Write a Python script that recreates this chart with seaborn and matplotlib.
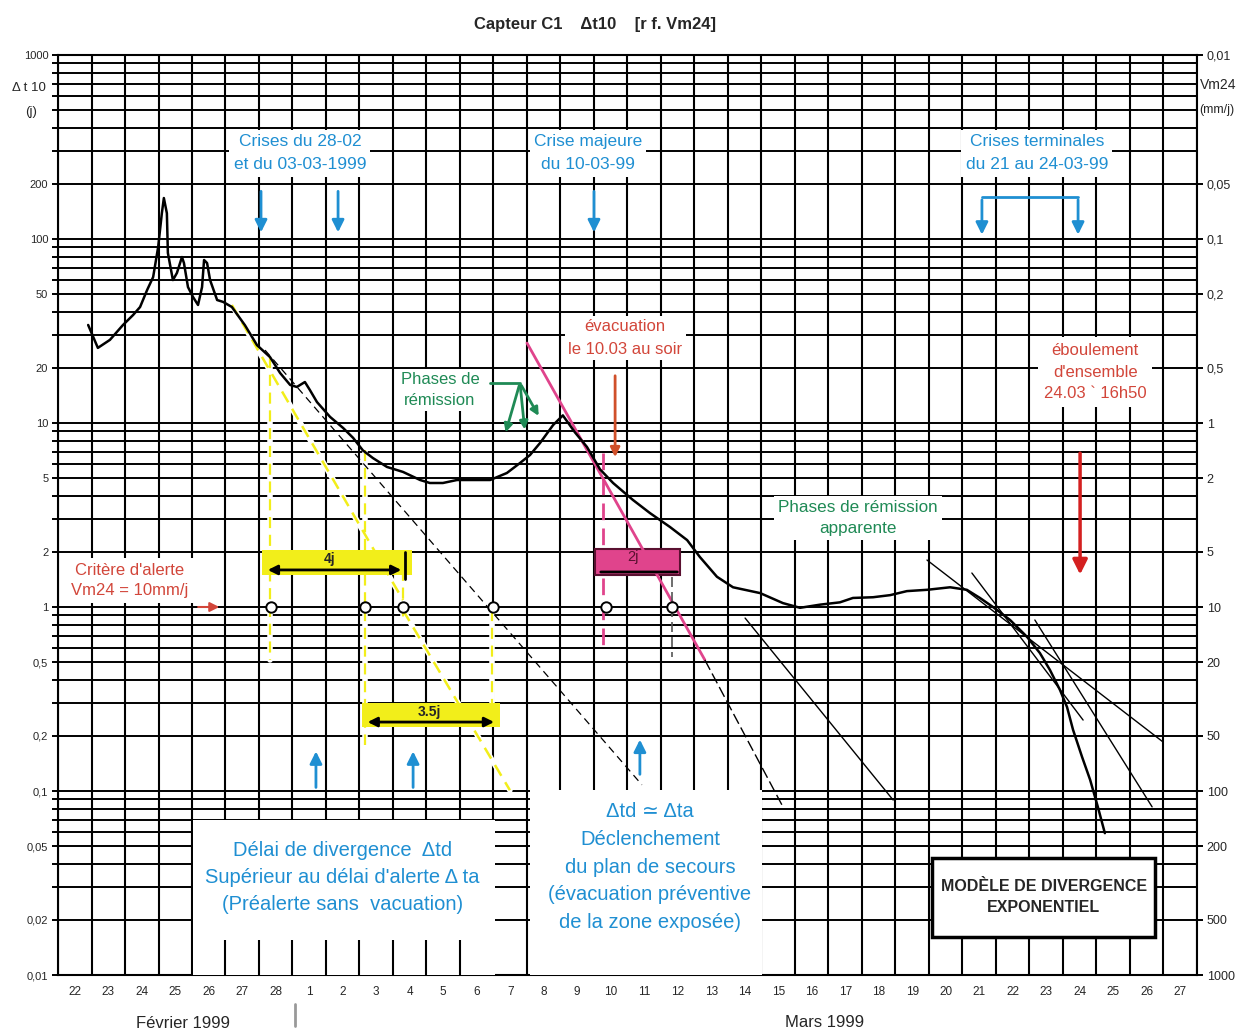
import matplotlib
matplotlib.use("Agg")
import matplotlib.pyplot as plt
from matplotlib.patches import Rectangle
from matplotlib.ticker import FixedLocator, LogLocator, NullLocator, FuncFormatter, NullFormatter
import seaborn as sns

# temps en jours depuis le 22-02-1999 00h00, Δt10 en jours
days = [0.90, 1.19, 1.55, 1.94, 2.24, 2.45, 2.66, 2.84, 2.99, 3.10, 3.16, 3.25, 3.28,
        3.43, 3.55, 3.70, 3.76, 3.88, 4.03, 4.18, 4.30, 4.36, 4.45, 4.54, 4.75, 4.93,
        5.19, 5.58, 5.94, 6.33, 6.63, 6.93, 7.13, 7.37, 7.52, 7.73, 8.12, 8.51, 8.81,
        9.10, 9.40, 9.82, 10.30, 10.81, 11.10, 11.49, 11.91, 12.39, 12.90, 13.40, 13.79,
        14.09, 14.39, 14.78, 15.07, 15.43, 15.79, 16.18, 16.57, 17.16, 17.67, 18.27,
        18.78, 19.16, 19.67, 20.15, 20.96, 21.64, 22.15, 22.75, 23.34, 23.73, 24.33,
        24.84, 25.34, 25.94, 26.63, 27.13, 27.52, 27.91, 28.42, 28.93, 29.31, 29.61,
        29.91, 30.12, 30.30, 30.57, 30.81, 31.04, 31.25]
dt10 = [34.1, 25.6, 28.3, 34.1, 38.6, 42.7, 52.8, 62.1, 90.5, 138, 167, 138, 84,
        59.8, 65.4, 79.8, 74, 54.8, 48.4, 43.8, 54.8, 76.9, 74, 59.8, 46.6, 45.5,
        42.7, 34.0, 26.5, 22.8, 18.7, 16.1, 15.7, 16.7, 15.1, 13.0, 10.8, 9.4, 8.3,
        7.1, 6.45, 5.77, 5.42, 4.90, 4.72, 4.72, 4.90, 4.90, 4.90, 5.35, 6.06,
        6.70, 7.79, 9.75, 11.0, 8.9, 7.41, 5.6, 4.72, 3.82, 3.24, 2.72,
        2.31, 1.87, 1.46, 1.28, 1.19, 1.05, 0.99, 1.03, 1.06, 1.12, 1.13,
        1.16, 1.22, 1.24, 1.28, 1.24, 1.12, 1.00, 0.85, 0.687, 0.562, 0.455,
        0.354, 0.286, 0.215, 0.153, 0.115, 0.082, 0.059]

day_labels = ["22", "23", "24", "25", "26", "27", "28", "1", "2", "3", "4", "5", "6",
              "7", "8", "9", "10", "11", "12", "13", "14", "15", "16", "17", "18",
              "19", "20", "21", "22", "23", "24", "25", "26", "27"]
left_ticks = [1000, 200, 100, 50, 20, 10, 5, 2, 1, 0.5, 0.2, 0.1, 0.05, 0.02, 0.01]
right_ticks = [0.01, 0.05, 0.1, 0.2, 0.5, 1, 2, 5, 10, 20, 50, 100, 200, 500, 1000]

# droites de divergence (t, Δt10)
tangent_dashed = [(6.18, 17.43), (24.9, 0.108)]
tangent_magenta = [(14.0, 19.31), (27.2, 0.515)]
tangent_magenta_ext = [(19.31, 21.61), (0.515, 0.084)]
tangents_thin = [
    [(20.51, 24.93), (0.871, 0.0893)],
    [(25.94, 32.99), (1.80, 0.1845)],
    [(27.28, 30.60), (1.53, 0.243)],
    [(29.16, 32.66), (0.85, 0.082)],
]
yellow_diag = [[(5.19, 10.30), (43.8, 1.09)], [(10.30, 13.49), (0.96, 0.101)]]
yellow_vert = [(6.33, 22.8, 0.515), (9.16, 7.1, 0.178), (10.30, 2.0, 0.85), (12.96, 0.96, 0.293)]
alert_days = [6.36, 9.16, 10.30, 12.99, 16.36, 18.33]
alert_level = 1.0

BLUE = "#1f8fd2"
RED = "#d2463a"
GREEN = "#1f8a55"
YELLOW = "#f2ee1a"
MAGENTA = "#e0448c"

sns.set_theme(style="white")
plt.rcParams["font.family"] = ["Liberation Sans", "DejaVu Sans"]

fig = plt.figure(figsize=(12.38, 10.36), dpi=100)
ax = fig.add_axes([0.04685, 0.05888, 0.92003, 0.88803])

sns.lineplot(x=days, y=dt10, ax=ax, color="black", linewidth=1.8, sort=False, zorder=4)
ax.set_yscale("log")
ax.set_xlim(0, 34)
ax.set_ylim(0.01, 1000)

# grille du papier semi-log
ax.xaxis.set_major_locator(FixedLocator(range(0, 35)))
ax.xaxis.set_major_formatter(NullFormatter())
ax.xaxis.set_minor_locator(FixedLocator([i + 0.5 for i in range(34)]))
ax.xaxis.set_minor_formatter(FuncFormatter(lambda v, p: day_labels[int(v)] if 0 <= int(v) < 34 else ""))
ax.tick_params(axis="x", which="both", length=0, pad=8, labelsize=8.5)
ax.yaxis.set_major_locator(FixedLocator(left_ticks))
ax.yaxis.set_major_formatter(FuncFormatter(lambda v, p: f"{v:g}".replace(".", ",")))
ax.yaxis.set_minor_locator(LogLocator(base=10, subs=range(1, 10)))
ax.yaxis.set_minor_formatter(NullFormatter())
ax.tick_params(axis="y", which="both", length=4, width=1.4, color="black", labelsize=8, pad=3)
ax.grid(axis="x", which="major", color="black", linewidth=1.5)
ax.grid(axis="y", which="both", color="black", linewidth=1.4)
for s in ax.spines.values():
    s.set_color("black")
    s.set_linewidth(1.5)

ax2 = ax.twinx()
ax2.set_yscale("log")
ax2.set_ylim(1000, 0.01)
ax2.yaxis.set_major_locator(FixedLocator(right_ticks))
ax2.yaxis.set_major_formatter(FuncFormatter(lambda v, p: f"{v:g}".replace(".", ",")))
ax2.yaxis.set_minor_locator(NullLocator())
ax2.tick_params(axis="y", length=4, width=1.4, color="black", labelsize=9, pad=3)
ax2.grid(False)
for s in ax2.spines.values():
    s.set_visible(False)

# droites de divergence
ax.plot(*tangent_dashed, color="black", lw=0.9, ls=(0, (6, 4)), zorder=3)
ax.plot(*tangent_magenta, color=MAGENTA, lw=2.0, zorder=3)
ax.plot(*tangent_magenta_ext, color="black", lw=1.0, ls=(0, (8, 3)), zorder=3)
for tx, ty in tangents_thin:
    ax.plot(tx, ty, color="black", lw=1.0, zorder=3)
for tx, ty in yellow_diag:
    ax.plot(tx, ty, color="white", lw=4, zorder=2.5)
    ax.plot(tx, ty, color=YELLOW, lw=1.8, ls=(0, (5, 3)), zorder=2.6)
for xv, y0, y1 in yellow_vert:
    ax.plot([xv, xv], [y0, y1], color="white", lw=4, zorder=2.5)
    ax.plot([xv, xv], [y0, y1], color=YELLOW, lw=1.6, ls=(0, (5, 3)), zorder=2.6)
ax.plot([16.27, 16.27], [6.87, 0.583], color=MAGENTA, lw=2.0, ls=(0, (6, 3)), zorder=3)
ax.plot([18.33, 18.33], [1.46, 0.535], color="#555555", lw=1.2, ls=(0, (6, 3)), zorder=3)
ax.plot(alert_days, [alert_level] * len(alert_days), "o", mfc="white", mec="black",
        ms=7.5, mew=1.4, zorder=6)

# bandeaux de délais
ax.add_patch(Rectangle((6.09, 1.49), 4.48, 0.55, fc=YELLOW, ec="none", zorder=2.7))
ax.annotate("", xy=(6.18, 1.59), xytext=(10.33, 1.59),
            arrowprops=dict(arrowstyle="<|-|>", color="black", lw=2, mutation_scale=14), zorder=5)
ax.plot([10.36, 10.36], [2.0, 1.42], color="black", lw=2, zorder=5)
ax.text(8.12, 1.82, "4j", ha="center", va="center", fontsize=10, fontweight="bold", zorder=6)
ax.add_patch(Rectangle((9.07, 0.223), 4.12, 0.077, fc=YELLOW, ec="none", zorder=2.7))
ax.annotate("", xy=(9.16, 0.237), xytext=(13.10, 0.237),
            arrowprops=dict(arrowstyle="<|-|>", color="black", lw=2, mutation_scale=14), zorder=5)
ax.text(11.1, 0.27, "3.5j", ha="center", va="center", fontsize=10, fontweight="bold", zorder=6)
ax.add_patch(Rectangle((16.03, 1.49), 2.54, 0.58, fc=MAGENTA, ec="#5a1030", lw=1.5, zorder=2.7))
ax.annotate("", xy=(16.12, 1.55), xytext=(18.57, 1.55),
            arrowprops=dict(arrowstyle="-", color="black", lw=2), zorder=5)
ax.text(17.16, 1.88, "2j", ha="center", va="center", fontsize=10.5, color="#5a1030", zorder=6)

# cartouches de texte
box = dict(boxstyle="square,pad=0.25", fc="white", ec="none")
ax.text(7.22, 293, "Crises du 28-02\net du 03-03-1999", ha="center", va="center",
        fontsize=12.5, color=BLUE, bbox=box, linespacing=1.7, zorder=5)
ax.text(15.82, 293, "Crise majeure\ndu 10-03-99", ha="center", va="center",
        fontsize=12.5, color=BLUE, bbox=box, linespacing=1.7, zorder=5)
ax.text(29.22, 293, "Crises terminales\ndu 21 au 24-03-99", ha="center", va="center",
        fontsize=12.5, color=BLUE, bbox=box, linespacing=1.7, zorder=5)
for xa in [6.06, 8.36, 16.0]:
    ax.annotate("", xy=(xa, 105), xytext=(xa, 188),
                arrowprops=dict(arrowstyle="-|>", color=BLUE, lw=2, mutation_scale=18), zorder=5)
ax.plot([27.58, 30.45], [169, 169], color=BLUE, lw=2, zorder=5)
for xa in [27.58, 30.45]:
    ax.annotate("", xy=(xa, 102), xytext=(xa, 169),
                arrowprops=dict(arrowstyle="-|>", color=BLUE, lw=2, mutation_scale=18), zorder=5)
for xa, y0, y1 in [(7.70, 0.101, 0.17), (10.60, 0.101, 0.17), (17.37, 0.119, 0.197)]:
    ax.annotate("", xy=(xa, y1), xytext=(xa, y0),
                arrowprops=dict(arrowstyle="-|>", color=BLUE, lw=2, mutation_scale=18), zorder=5)

ax.add_patch(Rectangle((4.03, 0.01), 9.01, 0.0595, fc="white", ec="none", zorder=2.8))
ax.vlines(range(5, 13), 0.01, 0.0155, color="black", lw=1.5, zorder=2.9)
ax.text(8.48, 0.034, "Délai de divergence  Δtd\nSupérieur au délai d'alerte Δ ta\n(Préalerte sans  vacuation)",
        ha="center", va="center", fontsize=14.5, color=BLUE, linespacing=1.52, zorder=5)
ax.add_patch(Rectangle((14.09, 0.01), 6.92, 0.091, fc="white", ec="none", zorder=2.8))
ax.text(17.67, 0.0385, "Δtd ≃ Δta\nDéclenchement\ndu plan de secours\n(évacuation préventive\nde la zone exposée)",
        ha="center", va="center", fontsize=14.5, color=BLUE, linespacing=1.58, zorder=5)

ax.text(2.15, 1.40, "Critère d'alerte\nVm24 = 10mm/j", ha="center", va="center", fontsize=12,
        color=RED, linespacing=1.43, bbox=dict(boxstyle="square,pad=0.3", fc="white", ec="none"), zorder=5)
ax.annotate("", xy=(4.9, 1.0), xytext=(4.1, 1.0),
            arrowprops=dict(arrowstyle="-|>", color=RED, lw=1.5, mutation_scale=14), zorder=6)
ax.text(16.93, 29, "évacuation\nle 10.03 au soir", ha="center", va="center", fontsize=12,
        color=RED, linespacing=1.6, bbox=dict(boxstyle="square,pad=0.2", fc="white", ec="none"), zorder=5)
ax.annotate("", xy=(16.63, 6.3), xytext=(16.63, 18.7),
            arrowprops=dict(arrowstyle="-|>", color="#d0502a", lw=2, mutation_scale=14), zorder=5)
ax.text(30.96, 18.9, "éboulement\nd'ensemble\n24.03 ` 16h50", ha="center", va="center", fontsize=12,
        color=RED, linespacing=1.55, bbox=dict(boxstyle="square,pad=0.35", fc="white", ec="none"), zorder=5)
ax.annotate("", xy=(30.51, 1.45), xytext=(30.51, 7.1),
            arrowprops=dict(arrowstyle="-|>", color="#d42020", lw=2.5, mutation_scale=22), zorder=5)

ax.text(11.40, 15.1, "Phases de\nrémission", ha="center", va="center", fontsize=12,
        color=GREEN, linespacing=1.44, bbox=dict(boxstyle="square,pad=0.2", fc="white", ec="none"), zorder=5)
ax.plot([12.9, 13.79], [16.5, 16.5], color=GREEN, lw=2, zorder=5)
for xe, ye in [(13.34, 8.6), (13.94, 8.9), (14.39, 10.6)]:
    ax.annotate("", xy=(xe, ye), xytext=(13.79, 16.5),
                arrowprops=dict(arrowstyle="-|>", color=GREEN, lw=2, mutation_scale=12), zorder=5)
ax.text(23.88, 3.05, "Phases de rémission\napparente", ha="center", va="center", fontsize=12.3,
        color=GREEN, linespacing=1.5, bbox=dict(boxstyle="square,pad=0.25", fc="white", ec="none"), zorder=5)

ax.add_patch(Rectangle((26.09, 0.0161), 6.66, 0.0271, fc="white", ec="black", lw=2.5, zorder=5))
ax.text(29.42, 0.0266, "MODÈLE DE DIVERGENCE\nEXPONENTIEL", ha="center", va="center", fontsize=11.5,
        fontweight="bold", linespacing=1.5, zorder=6)

# titres et unités
fig.text(0.481, 0.976, "Capteur C1    Δt10    [r f. Vm24]", ha="center", va="center",
         fontsize=12, fontweight="bold")
fig.text(0.023, 0.915, "Δ t 10", ha="center", va="center", fontsize=9.5)
fig.text(0.025, 0.892, "(j)", ha="center", va="center", fontsize=9.5)
fig.text(0.969, 0.918, "Vm24", ha="left", va="center", fontsize=10)
fig.text(0.969, 0.894, "(mm/j)", ha="left", va="center", fontsize=9)
fig.text(0.148, 0.0125, "Février 1999", ha="center", va="center", fontsize=12)
fig.text(0.666, 0.0135, "Mars 1999", ha="center", va="center", fontsize=12)
fig.add_artist(plt.Line2D([0.2383, 0.2383], [0.010, 0.031], color="#999999", lw=2))

fig.savefig("out.png", dpi=100)
